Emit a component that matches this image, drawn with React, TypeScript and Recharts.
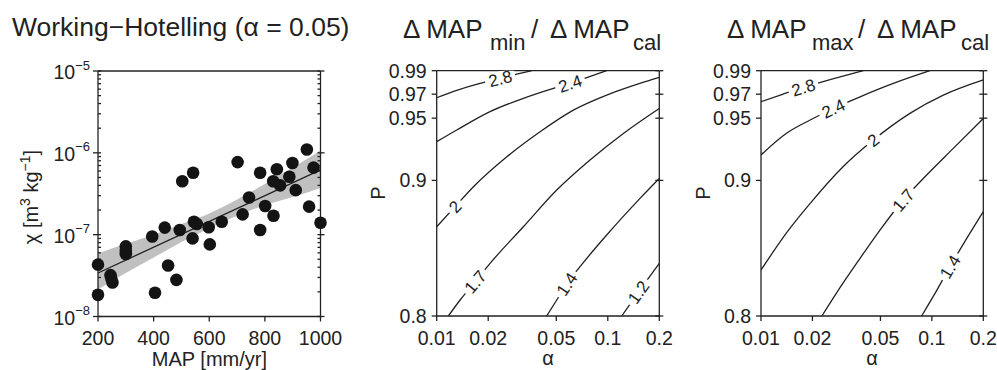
import React from 'react';
import { ComposedChart, Line, Area, Scatter, XAxis, YAxis } from 'recharts';

const FONT = '"Liberation Sans", Arial, Helvetica, sans-serif';
const INK = '#222';

type Pt = [number, number];

// ---- Working-Hotelling panel ----
const mapValues = [200, 200, 245, 248, 252, 300, 300, 300, 395, 405, 440, 452, 482, 494, 503, 540, 542, 545, 555, 598, 602, 645, 702, 720, 743, 783, 783, 801, 831, 830, 843, 855, 888, 899, 911, 951, 959, 975, 1000];
const chiValues = [4.3e-8, 1.84e-8, 3.2e-8, 2.9e-8, 2.6e-8, 7.2e-8, 6.4e-8, 5.8e-8, 9.5e-8, 1.95e-8, 1.22e-7, 4.2e-8, 2.8e-8, 1.14e-7, 4.5e-7, 9.0e-8, 5.7e-7, 1.44e-7, 1.35e-7, 1.23e-7, 7.6e-8, 1.44e-7, 7.7e-7, 1.77e-7, 2.85e-7, 1.14e-7, 5.7e-7, 2.24e-7, 1.7e-7, 4.5e-7, 6.3e-7, 4.0e-7, 5.1e-7, 7.5e-7, 3.5e-7, 1.1e-6, 2.2e-7, 6.6e-7, 1.4e-7];
const fitMap = [200, 1000];
const fitChi = [3.4e-8, 6.2e-7];
const bandMap = [200, 300, 400, 500, 600, 700, 800, 900, 1000];
const bandLow = [2.14e-8, 3.39e-8, 5.25e-8, 8.13e-8, 1.2e-7, 1.7e-7, 2.29e-7, 2.88e-7, 3.72e-7];
const bandHigh = [5.89e-8, 7.76e-8, 1.0e-7, 1.35e-7, 1.82e-7, 2.69e-7, 4.17e-7, 6.61e-7, 1.07e-6];
const mapTicks = [200, 400, 600, 800, 1000];
const chiTicks = [1e-8, 1e-7, 1e-6, 1e-5];
const chiExponents = ['\u22128', '\u22127', '\u22126', '\u22125'];

const mapMinorTicks = Array.from({ length: 41 }, (_, i) => 200 + i * 20);
const chiMinorTicks = [1e-8, 1e-7, 1e-6]
  .flatMap((d) => [1, 2, 3, 4, 5, 6, 7, 8, 9].map((m) => m * d))
  .concat([1e-5]);

// ---- contour panels ----
const alphaTicks = [0.01, 0.02, 0.05, 0.1, 0.2];
const pTicks = [0.8, 0.9, 0.95, 0.97, 0.99];

// ΔMAP_min / ΔMAP_cal
const minLevels = ['2.8', '2.4', '2', '1.7', '1.4', '1.2'];
const min28: Pt[] = [[0.01, 0.967], [0.0131, 0.9732], [0.0179, 0.9791], [0.0235, 0.9834], [0.0307, 0.9877], [0.0359, 0.99]];
const min24: Pt[] = [[0.01, 0.9308], [0.0131, 0.9403], [0.0205, 0.9554], [0.0321, 0.9665], [0.0481, 0.9749], [0.0602, 0.9791], [0.0753, 0.984], [0.0985, 0.99]];
const min20: Pt[] = [[0.01, 0.8645], [0.0128, 0.8797], [0.0164, 0.8951], [0.0257, 0.9187], [0.0402, 0.9389], [0.0629, 0.9567], [0.0985, 0.9693], [0.154, 0.9792], [0.2, 0.9843]];
const min17: Pt[] = [[0.0117, 0.8], [0.0137, 0.8112], [0.0168, 0.8242], [0.0205, 0.8374], [0.0321, 0.8645], [0.0503, 0.8925], [0.0787, 0.9161], [0.1233, 0.9375], [0.2, 0.9581]];
const min14: Pt[] = [[0.0439, 0.8], [0.0503, 0.8112], [0.0575, 0.8225], [0.0688, 0.835], [0.0985, 0.8583], [0.1543, 0.8861], [0.2, 0.9016]];
const min12: Pt[] = [[0.1206, 0.8], [0.1349, 0.8083], [0.1509, 0.8168], [0.1726, 0.8266], [0.2, 0.8374]];
const minLines = [min28, min24, min20, min17, min14, min12];
const minLabelIndex = [3, 5, 1, 2, 2, 2];
const minLabelAngle = [-14, -18, -47, -50, -56, -55];

// ΔMAP_max / ΔMAP_cal
const maxLevels = ['2.8', '2.4', '2', '1.7', '1.4'];
const max28: Pt[] = [[0.01, 0.9637], [0.0135, 0.9701], [0.0177, 0.9757], [0.0242, 0.9816], [0.0317, 0.9863], [0.0397, 0.99]];
const max24: Pt[] = [[0.01, 0.9201], [0.0141, 0.9376], [0.0194, 0.9485], [0.0265, 0.958], [0.038, 0.9678], [0.0595, 0.9791], [0.0975, 0.99]];
const max20: Pt[] = [[0.01, 0.8326], [0.0141, 0.8599], [0.0194, 0.8822], [0.0303, 0.9109], [0.0454, 0.9321], [0.0744, 0.954], [0.1167, 0.9692], [0.2, 0.9821]];
const max17: Pt[] = [[0.0227, 0.8], [0.0277, 0.8163], [0.038, 0.8411], [0.0497, 0.862], [0.068, 0.8848], [0.0932, 0.9042], [0.1335, 0.9254], [0.2, 0.9498]];
const max14: Pt[] = [[0.0871, 0.8], [0.1066, 0.8178], [0.1276, 0.835], [0.1597, 0.8556], [0.2, 0.8759]];
const maxLines = [max28, max24, max20, max17, max14];
const maxLabelIndex = [2, 3, 4, 4, 2];
const maxLabelAngle = [-17, -25, -38, -50, -59];

const lineStyle = { stroke: INK, strokeWidth: 1.3 };
const tickText = { fontSize: 19.5, fontFamily: FONT, fill: INK };
const blankTick = () => <g />;

function PowerTick(props: any) {
  const { x, y, payload } = props;
  const i = chiTicks.indexOf(payload.value);
  const exp = i >= 0 ? chiExponents[i] : String(Math.round(Math.log10(payload.value)));
  return (
    <text x={x} y={y} textAnchor="end" fontFamily={FONT} fill={INK}>
      <tspan fontSize={19.5} dy={8}>10</tspan>
      <tspan fontSize={13} dy={-9.5}>{exp}</tspan>
    </text>
  );
}

const contourLabel = (text: string, at: number, angle: number) => (props: any) => {
  const { cx, cy, index } = props;
  if (index !== at) return <g key={`n-${index}`} />;
  const w = [...text].reduce((s, c) => s + (c === '.' ? 4.7 : 9.5), 0) + 7;
  return (
    <g key={`l-${index}`} transform={`translate(${cx},${cy}) rotate(${angle})`}>
      <rect x={-w / 2} y={-7} width={w} height={14} fill="#fff" />
      <text x={0} y={0} dy="0.36em" textAnchor="middle" fontSize={17} fontFamily={FONT} fill={INK}>
        {text}
      </text>
    </g>
  );
};

function WHPanel() {
  const points = mapValues.map((x, i) => ({ x, y: chiValues[i] }));
  const fit = fitMap.map((x, i) => ({ x, y: fitChi[i] }));
  const band = bandMap.map((x, i) => ({ x, band: [bandLow[i], bandHigh[i]] }));
  const xCommon = { type: 'number' as const, domain: [200, 1000], interval: 0 as const };
  const yCommon = { type: 'number' as const, scale: 'log' as const, domain: [1e-8, 1e-5], interval: 0 as const };
  return (
    <div style={{ position: 'absolute', left: 0, top: 0 }}>
      <ComposedChart width={340} height={370} margin={{ top: 70, right: 18.5, bottom: 13.5, left: 0 }}>
        <XAxis xAxisId="m" dataKey="x" {...xCommon} ticks={mapTicks} height={40} tickSize={5} tickMargin={10}
          axisLine={lineStyle} tickLine={lineStyle} tick={tickText} />
        <XAxis xAxisId="mIn" {...xCommon} allowDataOverflow mirror ticks={mapMinorTicks} tickSize={3}
          axisLine={false} tickLine={lineStyle} tick={blankTick} />
        <XAxis xAxisId="mTop" orientation="top" {...xCommon} allowDataOverflow ticks={mapTicks} height={1} tickSize={4}
          axisLine={lineStyle} tickLine={lineStyle} tick={blankTick} />
        <XAxis xAxisId="mTopIn" orientation="top" mirror {...xCommon} allowDataOverflow ticks={mapMinorTicks} tickSize={3}
          axisLine={false} tickLine={lineStyle} tick={blankTick} />
        <YAxis yAxisId="c" {...yCommon} ticks={chiTicks} width={98} tickSize={5} tickMargin={3}
          axisLine={lineStyle} tickLine={lineStyle} tick={<PowerTick />} />
        <YAxis yAxisId="cIn" {...yCommon} allowDataOverflow mirror ticks={chiMinorTicks} tickSize={3}
          axisLine={false} tickLine={lineStyle} tick={blankTick} />
        <YAxis yAxisId="cR" orientation="right" {...yCommon} allowDataOverflow ticks={chiTicks} width={1} tickSize={4}
          axisLine={lineStyle} tickLine={lineStyle} tick={blankTick} />
        <YAxis yAxisId="cRIn" orientation="right" mirror {...yCommon} allowDataOverflow ticks={chiMinorTicks} tickSize={3}
          axisLine={false} tickLine={lineStyle} tick={blankTick} />
        <Area xAxisId="m" yAxisId="c" data={band} dataKey="band" type="monotone" fill="#c0c0c0" fillOpacity={1}
          stroke="none" activeDot={false} isAnimationActive={false} />
        <Line xAxisId="m" yAxisId="c" data={fit} dataKey="y" type="linear" stroke={INK} strokeWidth={1.3}
          dot={false} activeDot={false} isAnimationActive={false} />
        <Scatter xAxisId="m" yAxisId="c" data={points} dataKey="y" isAnimationActive={false}
          shape={(p: any) => <circle cx={p.cx} cy={p.cy} r={6.3} fill="#141414" />} />
      </ComposedChart>
    </div>
  );
}

function ContourPanel({ left, width, axisWidth, rightGap, levels, lines, labelIndex, labelAngle }: {
  left: number; width: number; axisWidth: number; rightGap: number;
  levels: string[]; lines: Pt[][]; labelIndex: number[]; labelAngle: number[];
}) {
  const xCommon = { type: 'number' as const, scale: 'log' as const, domain: [0.01, 0.2], allowDataOverflow: true, ticks: alphaTicks, interval: 0 as const };
  const yCommon = { type: 'number' as const, scale: 'log' as const, domain: [0.8, 0.99], allowDataOverflow: true, ticks: pTicks, interval: 0 as const };
  return (
    <div style={{ position: 'absolute', left, top: 0 }}>
      <ComposedChart width={width} height={370} margin={{ top: 69.7, right: rightGap, bottom: 14, left: 0 }}>
        <XAxis xAxisId="a" dataKey="a" {...xCommon} height={40} tickSize={5} tickMargin={10}
          axisLine={lineStyle} tickLine={lineStyle} tick={tickText} tickFormatter={(v: number) => String(v)} />
        <XAxis xAxisId="aTop" orientation="top" {...xCommon} height={1} tickSize={4}
          axisLine={lineStyle} tickLine={lineStyle} tick={blankTick} />
        <XAxis xAxisId="aTopIn" orientation="top" mirror {...xCommon} tickSize={4}
          axisLine={false} tickLine={lineStyle} tick={blankTick} />
        <YAxis yAxisId="p" {...yCommon} width={axisWidth} tickSize={5} tickMargin={5}
          axisLine={lineStyle} tickLine={lineStyle} tick={tickText} tickFormatter={(v: number) => String(v)} />
        <YAxis yAxisId="pR" orientation="right" {...yCommon} width={1} tickSize={4}
          axisLine={lineStyle} tickLine={lineStyle} tick={blankTick} />
        <YAxis yAxisId="pRIn" orientation="right" mirror {...yCommon} tickSize={4}
          axisLine={false} tickLine={lineStyle} tick={blankTick} />
        {lines.map((pts, i) => (
          <Line key={levels[i]} xAxisId="a" yAxisId="p" data={pts.map(([a, p]) => ({ a, p }))} dataKey="p"
            type="monotone" stroke={INK} strokeWidth={1.3}
            dot={contourLabel(levels[i], labelIndex[i], labelAngle[i])}
            activeDot={false} isAnimationActive={false} />
        ))}
      </ComposedChart>
    </div>
  );
}

function Titles() {
  const t = { fontFamily: FONT, fill: INK };
  return (
    <svg width={997} height={370} style={{ position: 'absolute', left: 0, top: 0, pointerEvents: 'none' }}>
      <text x={12} y={35.5} fontSize={26.5} {...t}>Working{'\u2212'}Hotelling ({'\u03b1'} = 0.05)</text>

      <text x={403} y={37.5} fontSize={26} {...t}>{'\u0394'} MAP</text>
      <text x={490} y={50} fontSize={22} {...t}>min</text>
      <text x={531} y={37.5} fontSize={26} {...t}>/</text>
      <text x={550} y={37.5} fontSize={26} {...t}>{'\u0394'} MAP</text>
      <text x={633} y={50} fontSize={22} {...t}>cal</text>

      <text x={727} y={37.5} fontSize={26} {...t}>{'\u0394'} MAP</text>
      <text x={812} y={50} fontSize={22} {...t}>max</text>
      <text x={858} y={37.5} fontSize={26} {...t}>/</text>
      <text x={877} y={37.5} fontSize={26} {...t}>{'\u0394'} MAP</text>
      <text x={961} y={50} fontSize={22} {...t}>cal</text>

      <text x={209.4} y={366} fontSize={20} textAnchor="middle" {...t}>MAP [mm/yr]</text>
      <text transform="translate(38,197) rotate(-90)" fontSize={20} textAnchor="middle" {...t}>
        <tspan>{'\u03c7'} [m</tspan>
        <tspan fontSize={14} dy={-8}>3</tspan>
        <tspan dy={8}> kg</tspan>
        <tspan fontSize={14} dy={-8}>{'\u2212'}1</tspan>
        <tspan dy={8}>]</tspan>
      </text>

      <text x={548} y={365} fontSize={20} textAnchor="middle" {...t}>{'\u03b1'}</text>
      <text x={872} y={365} fontSize={20} textAnchor="middle" {...t}>{'\u03b1'}</text>
      <text transform="translate(385,193) rotate(-90)" fontSize={20} textAnchor="middle" {...t}>P</text>
      <text transform="translate(710,193) rotate(-90)" fontSize={20} textAnchor="middle" {...t}>P</text>
    </svg>
  );
}

export default function App() {
  return (
    <div style={{ position: 'absolute', left: 0, top: 0, width: 997, height: 370, background: '#fff', fontFamily: FONT }}>
      <style>{'svg { overflow: visible; }'}</style>
      <WHPanel />
      <ContourPanel left={340} width={330} axisWidth={96.7} rightGap={9.7}
        levels={minLevels} lines={minLines} labelIndex={minLabelIndex} labelAngle={minLabelAngle} />
      <ContourPanel left={670} width={327} axisWidth={91} rightGap={12.7}
        levels={maxLevels} lines={maxLines} labelIndex={maxLabelIndex} labelAngle={maxLabelAngle} />
      <Titles />
    </div>
  );
}
